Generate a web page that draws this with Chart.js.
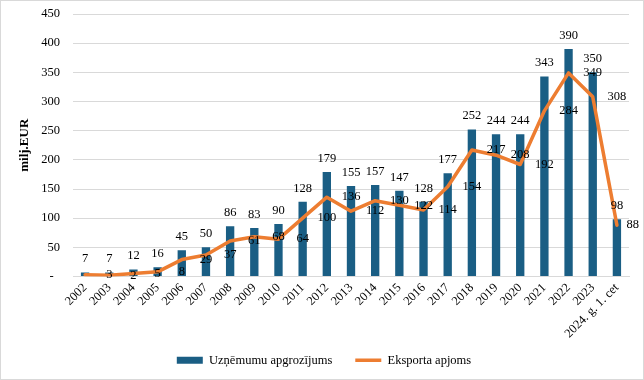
<!DOCTYPE html>
<html><head><meta charset="utf-8">
<script src="https://cdn.jsdelivr.net/npm/chart.js@4.4.1/dist/chart.umd.min.js"></script>
<style>html,body{margin:0;padding:0;background:#fff;}</style>
</head><body>
<canvas id="c" width="644" height="380" style="display:block;width:644px;height:380px"></canvas>
<script>
const categories = ['2002','2003','2004','2005','2006','2007','2008','2009','2010','2011','2012','2013','2014','2015','2016','2017','2018','2019','2020','2021','2022','2023','2024. g. 1. cet'];
const turnover = [7,7,12,16,45,50,86,83,90,128,179,155,157,147,128,177,252,244,244,343,390,350,98];
const exportVolume = [3,2,5,8,29,37,61,68,64,100,136,112,130,122,114,154,217,208,192,284,349,308,88];
const seriesNames = ['Uzņēmumu apgrozījums','Eksporta apjoms'];
const yAxisTitle = 'milj.EUR';
const yMin = 0, yMax = 450, yStep = 50;

const FONT = 'Liberation Serif';
const BAR_COLOR = '#1a5e84';
const LINE_COLOR = '#ed7d31';

const framePlugin = {
  id: 'frame',
  beforeDraw(chart) {
    const ctx = chart.ctx;
    ctx.save();
    ctx.fillStyle = '#fff';
    ctx.fillRect(0, 0, chart.width, chart.height);
    ctx.strokeStyle = '#d9d9d9';
    ctx.lineWidth = 1;
    ctx.strokeRect(0.5, 0.5, chart.width - 1, chart.height - 1);
    ctx.restore();
  },
  afterLayout(chart) {
    const lg = chart.legend;
    const dx = 324 - (lg.left + lg.right) / 2;
    lg.left += dx; lg.right += dx;
    const dy = 331 - lg.top;
    lg.top += dy; lg.bottom += dy;
  }
};

const labelPlugin = {
  id: 'valueLabels',
  afterDatasetsDraw(chart) {
    const ctx = chart.ctx;
    const xs = chart.scales.x, ys = chart.scales.y;
    ctx.save();
    ctx.font = '12.5px "' + FONT + '"';
    ctx.fillStyle = '#000';
    ctx.textAlign = 'center';
    ctx.textBaseline = 'middle';
    const bars = chart.getDatasetMeta(1).data;
    bars.forEach((b, i) => {
      ctx.fillText(String(turnover[i]), b.x, b.y - 13.5);
    });
    exportVolume.forEach((v, i) => {
      const t = String(v);
      const w = ctx.measureText(t).width;
      let x = xs.getPixelForValue(i + 1);
      if (x + w / 2 > chart.width - 5) x = chart.width - 5 - w / 2;
      ctx.fillText(t, x, ys.getPixelForValue(v));
    });
    ctx.restore();
  }
};

new Chart(document.getElementById('c'), {
  data: {
    labels: categories,
    datasets: [
      { type: 'line', label: seriesNames[1], data: exportVolume, borderColor: LINE_COLOR, backgroundColor: LINE_COLOR,
        borderWidth: 3.5, pointRadius: 0, pointStyle: 'line', tension: 0, borderJoinStyle: 'round', borderCapStyle: 'round', order: 0 },
      { type: 'bar', label: seriesNames[0], data: turnover, backgroundColor: BAR_COLOR, borderWidth: 0,
        barPercentage: 0.345, categoryPercentage: 1, pointStyle: 'rect', order: 1 }
    ]
  },
  options: {
    responsive: false, animation: false, devicePixelRatio: 1,
    layout: { padding: { top: 14, right: 15, left: 0, bottom: -10 } },
    plugins: {
      legend: {
        position: 'bottom',
        reverse: true,
        labels: { usePointStyle: true, pointStyleWidth: 26, boxHeight: 7, padding: 23,
          font: { family: FONT, size: 12.5 }, color: '#000' }
      },
      tooltip: { enabled: false }
    },
    scales: {
      x: {
        grid: { display: false, drawTicks: false },
        border: { display: true, color: '#d9d9d9' },
        ticks: { autoSkip: false, minRotation: 45, maxRotation: 45, padding: 4, color: '#000', font: { family: FONT, size: 12.5 } },
        afterFit(s) { s.height = 68; }
      },
      y: {
        min: yMin, max: yMax,
        ticks: { stepSize: yStep, padding: 13, color: '#000', font: { family: FONT, size: 12.5 },
          callback: v => v === 0 ? '-  ' : String(v) },
        grid: { color: '#d9d9d9', drawTicks: false },
        border: { display: false },
        title: { display: true, text: yAxisTitle, color: '#000', font: { family: FONT, size: 13, weight: 'bold' }, padding: { top: 17, bottom: 0 } },
        afterFit(s) { s.width = 73; s.paddingTop = 0; }
      }
    }
  },
  plugins: [framePlugin, labelPlugin]
});
</script>
</body></html>
